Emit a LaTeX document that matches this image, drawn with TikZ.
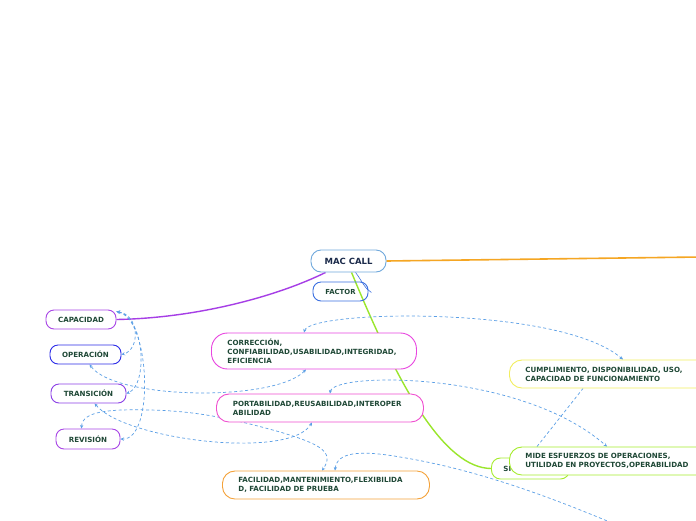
\documentclass[tikz,border=0pt]{standalone}
\usepackage{fontspec}
\setmainfont{DejaVu Sans}
\usetikzlibrary{arrows.meta,calc}
\definecolor{macblue}{HTML}{6FA8DC}
\definecolor{navy}{HTML}{1B2A4A}
\definecolor{factorblue}{HTML}{3B6FE0}
\definecolor{capviolet}{HTML}{A845E6}
\definecolor{opblue}{HTML}{2D2DE8}
\definecolor{transviolet}{HTML}{8B3FE6}
\definecolor{corrmag}{HTML}{E845E0}
\definecolor{portpink}{HTML}{F04FD0}
\definecolor{facorange}{HTML}{F4A23A}
\definecolor{cumpyellow}{HTML}{F2EE60}
\definecolor{midegreen}{HTML}{A6EC2E}
\definecolor{dashblue}{HTML}{5B9FE6}
\definecolor{orangeline}{HTML}{F5A623}
\definecolor{purpleline}{HTML}{A63EE6}
\definecolor{greenline}{HTML}{9AE62C}
\definecolor{txtgreen}{HTML}{1F4836}
\pgfdeclarelayer{bg}
\pgfsetlayers{bg,main}
\tikzset{
  pill/.style={draw, line width=0.9pt, fill=white, text=txtgreen,
    font=\bfseries\fontsize{7.1}{9}\selectfont},
  smallbox/.style={pill, minimum height=19pt, inner sep=0pt, rounded corners=8pt},
  bigbox/.style={pill, anchor=west, align=left, inner ysep=0pt,
    minimum height=28pt, rounded corners=12.5pt, inner xsep=16pt},
  dlink/.style={draw=dashblue, line width=0.7pt, dash pattern=on 3pt off 2.5pt},
  >={Stealth[length=3.5pt,width=3.2pt]}
}
\begin{document}
\begin{tikzpicture}[x=1pt,y=-1pt]
\useasboundingbox (0,0) rectangle (696,520);

% nodes
\node[smallbox, draw=macblue, text=navy, font=\bfseries\fontsize{8.5}{10}\selectfont,
  minimum width=75pt, minimum height=22pt, rounded corners=10pt] (mac) at (348.5,261) {MAC CALL};
\node[smallbox, draw=factorblue, fill=none, minimum width=55pt,
  font=\bfseries\fontsize{6.9}{9}\selectfont] (factor) at (340.5,291.5) {FACTOR};
\node[smallbox, draw=capviolet, minimum width=70pt] (capacidad) at (81,319.5) {CAPACIDAD};
\node[smallbox, draw=opblue, minimum width=71pt] (operacion) at (85.5,354.5) {OPERACIÓN};
\node[smallbox, draw=transviolet, minimum width=75pt] (transicion) at (88.5,393.5) {TRANSICIÓN};
\node[smallbox, draw=capviolet, minimum width=64pt, minimum height=20pt] (revision) at (88,439) {REVISIÓN};

\node[bigbox, draw=corrmag, minimum height=36pt, rounded corners=16pt, text width=173pt]
  (correccion) at (211,351) {CORRECCIÓN,\\CONFIABILIDAD,USABILIDAD,INTEGRIDAD,\\EFICIENCIA};
\node[bigbox, draw=portpink, inner xsep=16.5pt, text width=174pt]
  (portabilidad) at (216,408) {PORTABILIDAD,REUSABILIDAD,INTEROPER\\ABILIDAD};
\node[bigbox, draw=facorange, text width=175pt]
  (facilidad) at (222,485) {FACILIDAD,MANTENIMIENTO,FLEXIBILIDA\\D, FACILIDAD DE PRUEBA};
\node[bigbox, draw=cumpyellow, text width=200pt]
  (cumplimiento) at (509,374) {CUMPLIMIENTO, DISPONIBILIDAD, USO,\\CAPACIDAD DE FUNCIONAMIENTO};
\node[bigbox, draw=midegreen, minimum height=21pt, rounded corners=9pt, inner xsep=12pt, text width=54pt]
  (si) at (491,468.5) {SI};
\node[bigbox, draw=midegreen, text width=200pt]
  (mide) at (509,461) {MIDE ESFUERZOS DE OPERACIONES,\\UTILIDAD EN PROYECTOS,OPERABILIDAD};

% connector from MAC CALL to FACTOR
\draw[factorblue, line width=0.6pt] ($(mac.south west)+(45,0)$) .. controls (362,281) and (365,289) .. ($(factor.east)+(3,1)$);

\begin{pgfonlayer}{bg}
\fill[white] (0,0) rectangle (696,520);
\begin{scope}
\clip (0,0) rectangle (696,520);
\coordinate (offR) at (700,257);
\coordinate (offB) at (640,535);
% solid branches
\draw[orangeline, line width=1.6pt] (mac.east) -- (offR);
\draw[purpleline, line width=1.4pt] ($(mac.south west)+(15,0)$) .. controls (280,295) and (200,318) .. (capacidad.east);
\draw[greenline, line width=1.4pt] ($(mac.south west)+(41,0)$) .. controls (400,390) and (445,468) .. (si.west);
% dashed relations
\draw[dlink, <->] ($(correccion.north west)+(93,0)$) .. controls (310,310) and (560,305) .. ($(cumplimiento.north west)+(114,0)$);
\draw[dlink] ($(mide.north west)+(28,0)$) -- ($(cumplimiento.south west)+(74,0)$);
\draw[dlink, <->] ($(portabilidad.north west)+(114,0)$) .. controls (333,372) and (520,370) .. ($(mide.north west)+(98,0)$);
\draw[dlink, <->] ($(correccion.south west)+(95,0)$) .. controls (275,402) and (115,400) .. ($(operacion.south west)+(40,0)$);
\coordinate (capA) at ($(capacidad.north east)+(0,2)$);
\draw[dlink, <->] (capA) .. controls (140,315) and (140,350) .. (operacion.east);
\draw[dlink, <->] (capA) .. controls (145,318) and (148,385) .. (transicion.east);
\draw[dlink, <->] (capA) .. controls (150,318) and (155,440) .. (revision.east);
\draw[dlink, <->] ($(transicion.south west)+(44,0)$) .. controls (125,440) and (290,460) .. ($(portabilidad.south west)+(96,0)$);
\draw[dlink, <->] ($(revision.north west)+(26,0)$) .. controls (82,411) and (110,409) .. (150,410)
   .. controls (195,411) and (230,418) .. (280,432)
   .. controls (320,444) and (335,452) .. ($(facilidad.north west)+(100,0)$);
\draw[dlink, <-] ($(facilidad.north west)+(113,0)$) .. controls (337,452) and (360,450) .. (400,457)
   .. controls (480,470) and (560,500) .. (offB);
\end{scope}
\end{pgfonlayer}
\end{tikzpicture}
\end{document}
